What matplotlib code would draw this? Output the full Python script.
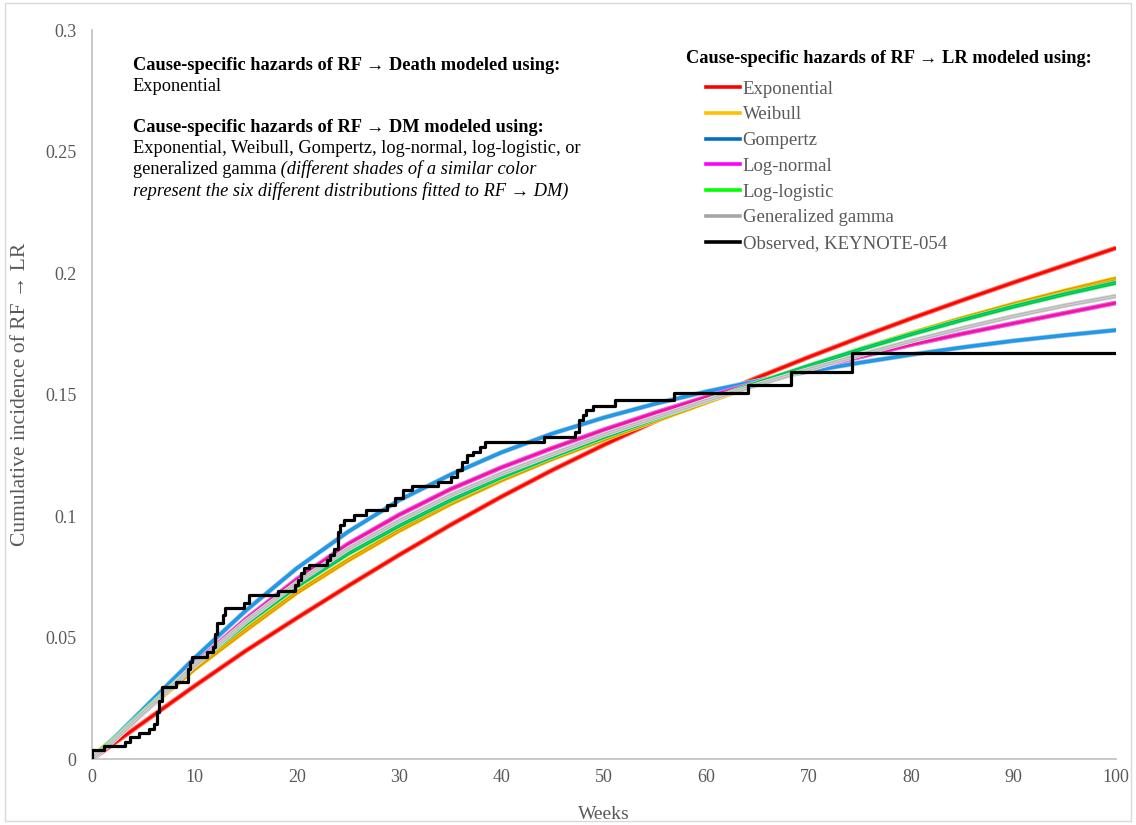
import numpy as np
import matplotlib.pyplot as plt
from matplotlib.lines import Line2D
from matplotlib.patches import Rectangle

plt.rcParams['font.family'] = ['Liberation Serif', 'DejaVu Serif']

# weeks at which the fitted curves were read
weeks = [0, 1, 2.5, 5, 7.5, 10, 15, 20, 25, 30, 35, 40, 45, 50, 55, 60, 65, 70, 75, 80, 85, 90, 95, 100]

# cumulative incidence of RF -> LR, one curve per distribution for RF -> LR
exponential = [0, 0.003, 0.0075, 0.015, 0.0225, 0.030, 0.0445, 0.058, 0.0712, 0.084, 0.0963, 0.108,
               0.119, 0.1293, 0.139, 0.1482, 0.157, 0.1654, 0.1735, 0.1813, 0.1888, 0.1961, 0.2032, 0.2103]
weibull = [0, 0.0045, 0.0095, 0.019, 0.028, 0.037, 0.053, 0.0685, 0.0818, 0.094, 0.105, 0.1148,
           0.1236, 0.1315, 0.1392, 0.1468, 0.1543, 0.1616, 0.1686, 0.1752, 0.1814, 0.1872, 0.1926, 0.1977]
gompertz = [0, 0.004, 0.010, 0.0205, 0.031, 0.0415, 0.061, 0.0785, 0.0935, 0.1065, 0.1170, 0.1262,
            0.1340, 0.1405, 0.1462, 0.1512, 0.1556, 0.1595, 0.1631, 0.1664, 0.1694, 0.1721, 0.1744, 0.1765]
lognormal = [0, 0.0035, 0.009, 0.019, 0.029, 0.039, 0.0575, 0.074, 0.0885, 0.1005, 0.111, 0.120,
             0.128, 0.1355, 0.1425, 0.149, 0.155, 0.1605, 0.1655, 0.1705, 0.175, 0.1793, 0.1835, 0.1877]
loglogistic = [0, 0.004, 0.0095, 0.0195, 0.029, 0.0385, 0.0555, 0.071, 0.0845, 0.096, 0.1065, 0.116,
               0.1245, 0.1325, 0.140, 0.1475, 0.1548, 0.1618, 0.1685, 0.1748, 0.1807, 0.1862, 0.1913, 0.196]
gengamma = [0, 0.0035, 0.009, 0.019, 0.0285, 0.0385, 0.0565, 0.0725, 0.0865, 0.098, 0.1085, 0.1175,
            0.1255, 0.1335, 0.1405, 0.1475, 0.1540, 0.1603, 0.1663, 0.172, 0.1773, 0.1822, 0.1866, 0.1905]

# observed KEYNOTE-054 step curve (week of each event, cumulative incidence after it)
km_weeks = [0, 0, 1.2, 3.2, 3.7, 4.6, 5.6, 6.1, 6.3, 6.5, 6.8, 8.2, 9.4, 9.6, 9.8, 11.2, 11.8, 12.0,
            12.2, 12.8, 13.0, 14.8, 15.3, 18.2, 19.8, 20.1, 20.4, 20.7, 21.2, 22.9, 23.2, 23.6, 24.0,
            24.2, 24.6, 25.6, 26.8, 28.8, 29.6, 30.4, 31.2, 33.8, 35.1, 35.6, 36.1, 36.6, 37.2, 37.9,
            38.4, 44.1, 47.2, 47.6, 47.9, 48.2, 48.9, 51.1, 56.8, 64.1, 68.3, 74.2, 100]
km_values = [0, 0.0035, 0.0052, 0.0071, 0.009, 0.0105, 0.0124, 0.0145, 0.0195, 0.024, 0.0295, 0.0315,
             0.037, 0.040, 0.042, 0.044, 0.046, 0.0515, 0.0558, 0.0593, 0.062, 0.064, 0.0675, 0.0693,
             0.0716, 0.0737, 0.0765, 0.0785, 0.080, 0.0819, 0.084, 0.0864, 0.0935, 0.0963, 0.0985,
             0.1005, 0.1025, 0.1045, 0.1073, 0.1107, 0.1123, 0.1141, 0.1162, 0.119, 0.1223, 0.1251,
             0.1265, 0.1285, 0.1306, 0.1326, 0.1347, 0.1395, 0.1416, 0.1436, 0.1453, 0.1477, 0.1507,
             0.1539, 0.1591, 0.167, 0.167]

labels = ['Exponential', 'Weibull', 'Gompertz', 'Log-normal', 'Log-logistic', 'Generalized gamma']
legend_colors = ['#FF0000', '#FFC000', '#0070C0', '#FF00FF', '#00FF00', '#A6A6A6']
# six shades per family, one for each RF -> DM distribution
shades = [
    ['#FF9F9F', '#FF7070', '#FF5A36', '#FF3B1F', '#F01010', '#FF0000'],
    ['#FFE07A', '#FFC000', '#F2B200', '#D9A000', '#B8860B', '#FFB300'],
    ['#BDD7EE', '#9DC3E6', '#5B9BD5', '#00B0F0', '#2F80E0', '#1E9FEA'],
    ['#D9A0FF', '#CC66FF', '#FF66CC', '#FF3399', '#FF00FF', '#F0188C'],
    ['#9FF09F', '#66FF66', '#00E060', '#00C060', '#00B050', '#10D070'],
    ['#E6E6E6', '#D9D9D9', '#C8C8C8', '#BFBFBF', '#A6A6A6', '#CFCFCF'],
]
curves = [exponential, weibull, gompertz, lognormal, loglogistic, gengamma]
widths = [3.6, 3.1, 2.6, 2.1, 1.6, 1.1]

fig = plt.figure(figsize=(11.36, 8.25), dpi=100)
ax = fig.add_axes([0.081, 0.08, 0.9014, 0.8836])

for curve, fam in zip(curves, shades):
    for c, lw in zip(fam, widths):
        ax.plot(weeks, curve, color=c, lw=lw, solid_capstyle='butt', solid_joinstyle='round')

ax.step(km_weeks, km_values, where='post', color='black', lw=2.3, zorder=5)

ax.set_xlim(0, 100)
ax.set_ylim(0, 0.3)
ax.set_xticks(np.arange(0, 101, 10))
ax.set_yticks([0, 0.05, 0.1, 0.15, 0.2, 0.25, 0.3])
ax.set_yticklabels(['0', '0.05', '0.1', '0.15', '0.2', '0.25', '0.3'])
ax.tick_params(axis='both', length=0, labelsize=13, labelcolor='#595959')
ax.tick_params(axis='y', pad=11)
ax.tick_params(axis='x', pad=7)
for s in ['top', 'right']:
    ax.spines[s].set_visible(False)
for s in ['left', 'bottom']:
    ax.spines[s].set_color('#BFBFBF')
    ax.spines[s].set_linewidth(1.2)

ax.set_xlabel('Weeks', fontsize=14, color='#595959')
ax.set_ylabel('Cumulative incidence of RF \u2192 LR', fontsize=15.5, color='#595959')
ax.xaxis.set_label_coords(0.5, -0.064)
ax.yaxis.set_label_coords(-0.0605, 0.5)

# legend for the RF -> LR distributions
handles = [Line2D([], [], color=c, lw=2.6) for c in legend_colors]
handles.append(Line2D([], [], color='black', lw=2.6))
leg = fig.legend(handles, labels + ['Observed, KEYNOTE-054'], loc='upper left',
                 bbox_to_anchor=(0.6215, 0.9025), bbox_transform=fig.transFigure,
                 frameon=False, fontsize=13.5, labelcolor='#595959', handlelength=1.8,
                 handletextpad=0.15, labelspacing=0.46, borderpad=0, borderaxespad=0)
fig.text(0.6035, 0.9285, 'Cause-specific hazards of RF \u2192 LR modeled using:',
         fontsize=13.2, fontweight='bold', va='center', ha='left')

# notes on the competing transitions
x0 = 0.117
fs = 13.2
fig.text(x0, 0.9212, 'Cause-specific hazards of RF \u2192 Death modeled using:',
         fontsize=fs, fontweight='bold', va='center')
fig.text(x0, 0.8956, 'Exponential', fontsize=fs, va='center')
fig.text(x0, 0.8449, 'Cause-specific hazards of RF \u2192 DM modeled using:',
         fontsize=fs, fontweight='bold', va='center')
fig.text(x0, 0.8194, 'Exponential, Weibull, Gompertz, log-normal, log-logistic, or',
         fontsize=fs, va='center')
t = fig.text(x0, 0.794, 'generalized gamma', fontsize=fs, va='center')
ax.annotate(' (different shades of a similar color', xy=(1, 0), xycoords=t,
            va='bottom', ha='left', fontsize=fs, fontstyle='italic')
fig.text(x0, 0.7686, 'represent the six different distributions fitted to RF \u2192 DM)',
         fontsize=fs, fontstyle='italic', va='center')

fig.add_artist(Rectangle((0.004, 0.005), 0.992, 0.991, transform=fig.transFigure,
                         fill=False, edgecolor='#D9D9D9', lw=1))

fig.savefig('out.png', dpi=100)
